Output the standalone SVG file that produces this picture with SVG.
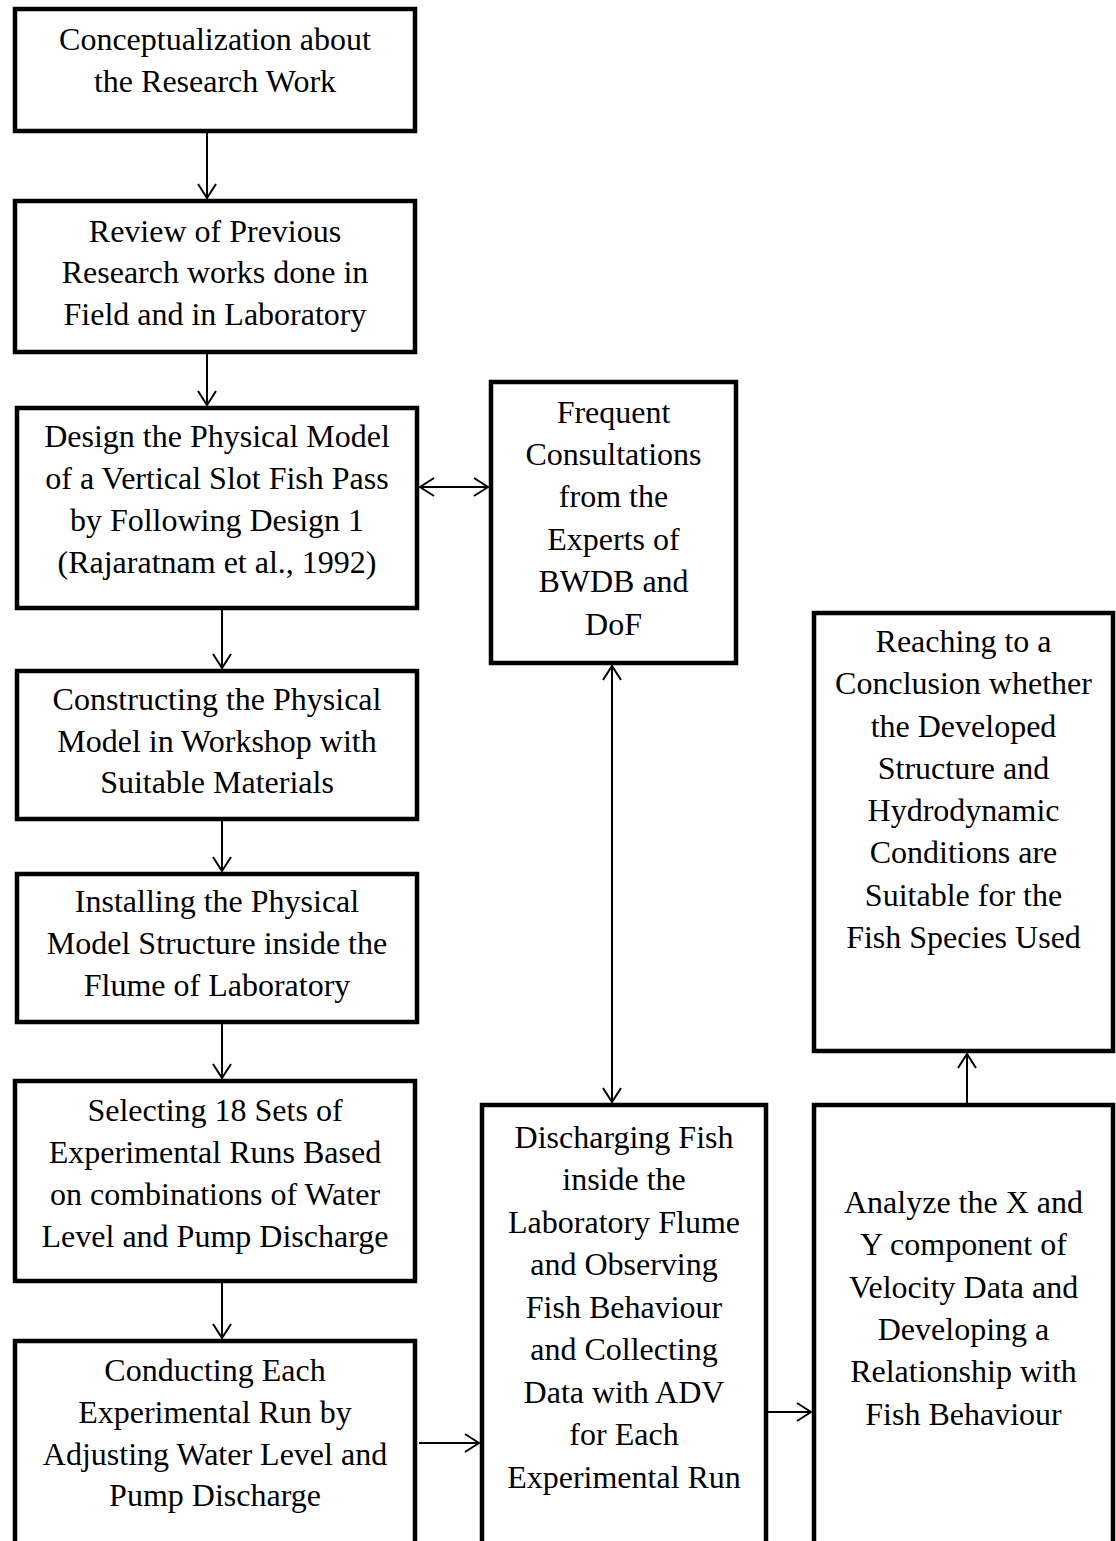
<svg xmlns="http://www.w3.org/2000/svg" width="1116" height="1541" viewBox="0 0 1116 1541">
<style>
.box{fill:#fff;stroke:#000;stroke-width:4.5}
.t{font-family:"Liberation Serif","Times New Roman",serif;font-size:32px;fill:#000;text-anchor:middle}
.c{stroke:#000;stroke-width:2;fill:none}
</style>
<defs>
<marker id="ah" markerUnits="userSpaceOnUse" markerWidth="16" markerHeight="20" viewBox="0 0 16 20" refX="15" refY="10" orient="auto-start-reverse">
<path d="M1,1 L15,10 L1,19" fill="none" stroke="#000" stroke-width="2"/>
</marker>
</defs>
<rect width="1116" height="1541" fill="#fff"/>
<g id="connectors">
<line class="c" x1="207" y1="133" x2="207" y2="198" marker-end="url(#ah)"/>
<line class="c" x1="207" y1="354" x2="207" y2="405" marker-end="url(#ah)"/>
<line class="c" x1="222" y1="610" x2="222" y2="668" marker-end="url(#ah)"/>
<line class="c" x1="222" y1="821" x2="222" y2="871" marker-end="url(#ah)"/>
<line class="c" x1="222" y1="1024" x2="222" y2="1078" marker-end="url(#ah)"/>
<line class="c" x1="222" y1="1283" x2="222" y2="1338" marker-end="url(#ah)"/>
<line class="c" x1="419" y1="1443" x2="479" y2="1443" marker-end="url(#ah)"/>
<line class="c" x1="768" y1="1412" x2="811" y2="1412" marker-end="url(#ah)"/>
<line class="c" x1="967" y1="1103" x2="967" y2="1054" marker-end="url(#ah)"/>
<line class="c" x1="612" y1="666" x2="612" y2="1102" marker-start="url(#ah)" marker-end="url(#ah)"/>
<line class="c" x1="420" y1="487" x2="488" y2="487" marker-start="url(#ah)" marker-end="url(#ah)"/>
</g>
<g id="n1">
<rect class="box" x="15" y="9" width="400" height="122"/>
<text class="t" x="215" y="50">Conceptualization about</text>
<text class="t" x="215" y="92">the Research Work</text>
</g>
<g id="n2">
<rect class="box" x="15" y="201" width="400" height="151"/>
<text class="t" x="215" y="242">Review of Previous</text>
<text class="t" x="215" y="283">Research works done in</text>
<text class="t" x="215" y="325">Field and in Laboratory</text>
</g>
<g id="n3">
<rect class="box" x="17" y="408" width="400" height="200"/>
<text class="t" x="217" y="447">Design the Physical Model</text>
<text class="t" x="217" y="489">of a Vertical Slot Fish Pass</text>
<text class="t" x="217" y="531">by Following Design 1</text>
<text class="t" x="217" y="573">(Rajaratnam et al., 1992)</text>
</g>
<g id="n4">
<rect class="box" x="17" y="671" width="400" height="148"/>
<text class="t" x="217" y="710">Constructing the Physical</text>
<text class="t" x="217" y="752">Model in Workshop with</text>
<text class="t" x="217" y="793">Suitable Materials</text>
</g>
<g id="n5">
<rect class="box" x="17" y="874" width="400" height="148"/>
<text class="t" x="217" y="912">Installing the Physical</text>
<text class="t" x="217" y="954">Model Structure inside the</text>
<text class="t" x="217" y="996">Flume of Laboratory</text>
</g>
<g id="n6">
<rect class="box" x="15" y="1081" width="400" height="200"/>
<text class="t" x="215" y="1121">Selecting 18 Sets of</text>
<text class="t" x="215" y="1163">Experimental Runs Based</text>
<text class="t" x="215" y="1205">on combinations of Water</text>
<text class="t" x="215" y="1247">Level and Pump Discharge</text>
</g>
<g id="n7">
<rect class="box" x="15" y="1341" width="400" height="300"/>
<text class="t" x="215" y="1381">Conducting Each</text>
<text class="t" x="215" y="1423">Experimental Run by</text>
<text class="t" x="215" y="1465">Adjusting Water Level and</text>
<text class="t" x="215" y="1506">Pump Discharge</text>
</g>
<g id="n8">
<rect class="box" x="491" y="382" width="245" height="281"/>
<text class="t" x="613.5" y="423">Frequent</text>
<text class="t" x="613.5" y="465">Consultations</text>
<text class="t" x="613.5" y="507">from the</text>
<text class="t" x="613.5" y="550">Experts of</text>
<text class="t" x="613.5" y="592">BWDB and</text>
<text class="t" x="613.5" y="635">DoF</text>
</g>
<g id="n9">
<rect class="box" x="482" y="1105" width="284" height="500"/>
<text class="t" x="624" y="1148">Discharging Fish</text>
<text class="t" x="624" y="1190">inside the</text>
<text class="t" x="624" y="1233">Laboratory Flume</text>
<text class="t" x="624" y="1275">and Observing</text>
<text class="t" x="624" y="1318">Fish Behaviour</text>
<text class="t" x="624" y="1360">and Collecting</text>
<text class="t" x="624" y="1403">Data with ADV</text>
<text class="t" x="624" y="1445">for Each</text>
<text class="t" x="624" y="1488">Experimental Run</text>
</g>
<g id="n10">
<rect class="box" x="814" y="1105" width="299" height="500"/>
<text class="t" x="963.5" y="1213">Analyze the X and</text>
<text class="t" x="963.5" y="1255">Y component of</text>
<text class="t" x="963.5" y="1298">Velocity Data and</text>
<text class="t" x="963.5" y="1340">Developing a</text>
<text class="t" x="963.5" y="1382">Relationship with</text>
<text class="t" x="963.5" y="1425">Fish Behaviour</text>
</g>
<g id="n11">
<rect class="box" x="814" y="613" width="299" height="438"/>
<text class="t" x="963.5" y="652">Reaching to a</text>
<text class="t" x="963.5" y="694">Conclusion whether</text>
<text class="t" x="963.5" y="737">the Developed</text>
<text class="t" x="963.5" y="779">Structure and</text>
<text class="t" x="963.5" y="821">Hydrodynamic</text>
<text class="t" x="963.5" y="863">Conditions are</text>
<text class="t" x="963.5" y="906">Suitable for the</text>
<text class="t" x="963.5" y="948">Fish Species Used</text>
</g>
</svg>
